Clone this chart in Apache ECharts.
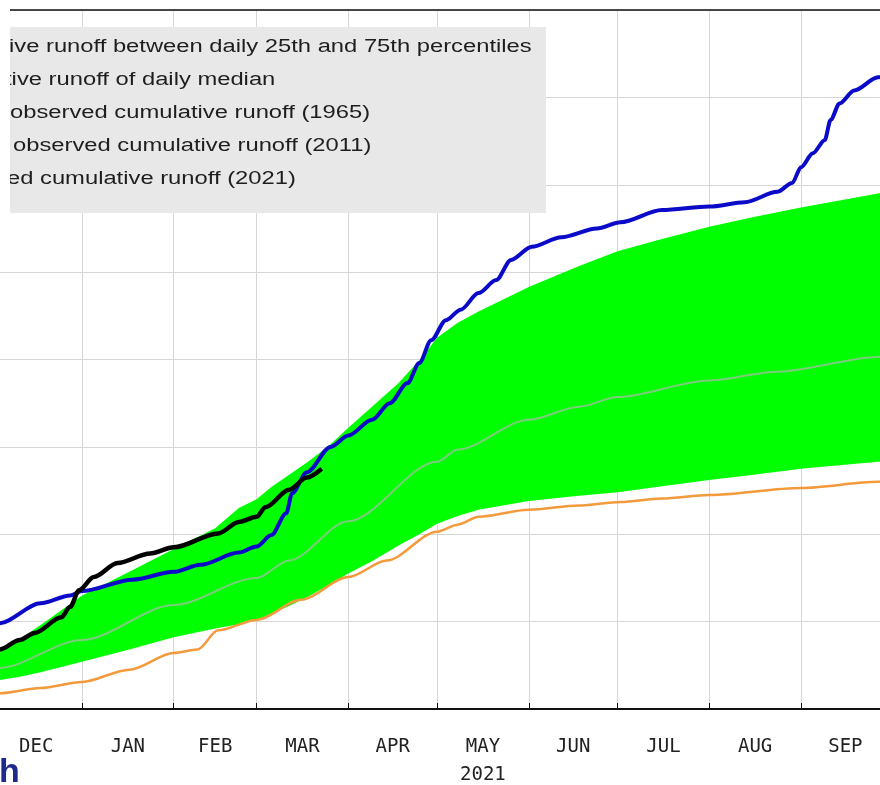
<!DOCTYPE html>
<html>
<head>
<meta charset="utf-8">
<title>Cumulative runoff</title>
<script src="https://cdn.jsdelivr.net/npm/echarts@6.0.0/dist/echarts.min.js"></script>
<style>
  html, body { margin: 0; padding: 0; background: #fff; }
  #chart { width: 880px; height: 785px; }
</style>
</head>
<body>
<div id="chart"></div>
<script>
// days counted from 1 Dec 2020; y in chart units (one grid step = 100)
const monthStarts = [31, 62, 90, 121, 151, 182, 212, 243, 274];
const monthMids = [15.5, 46.5, 76, 105.5, 136, 166.5, 197, 227.5, 258.5, 289];
const monthNames = ['DEC', 'JAN', 'FEB', 'MAR', 'APR', 'MAY', 'JUN', 'JUL', 'AUG', 'SEP'];

// 25th / 75th percentile band
const bandDays = [0, 3, 10, 17, 24, 31, 47, 62, 76, 84, 90, 95, 101, 107, 114, 121, 129, 138, 145, 151, 158, 165, 182, 199, 212, 227, 243, 258, 274, 287, 300, 304];
const p25 = [30, 33, 37, 42, 48, 54, 68, 82, 92, 97, 102, 109, 118, 128, 141, 155, 169, 187, 200, 212, 221, 228, 238, 244, 248, 255, 262, 268, 275, 279, 283, 284];
const p75 = [57, 65, 80, 96, 113, 130, 157, 183, 207, 230, 240, 254, 268, 282, 300, 322, 346, 373, 399, 425, 442, 455, 483, 507, 524, 538, 552, 563, 574, 582, 590, 592];

// daily median
const medDays = [0, 3, 31, 62, 90, 101, 121, 151, 158, 182, 199, 212, 243, 266, 300, 304];
const median = [43, 47, 79, 119, 150, 170, 215, 283, 297, 331, 346, 357, 376, 386, 403, 405];

// observed 1965
const days1965 = [0, 3, 17, 31, 47, 62, 70, 77, 90, 105, 121, 134, 151, 158, 165, 182, 199, 213, 227, 243, 274, 300, 304];
const obs1965 = [15, 18, 24, 31, 45, 64, 68, 90, 102, 125, 151, 170, 203, 211, 220, 228, 233, 237, 241, 245, 253, 260, 261];

// observed 2011
const days2011 = [0, 3, 17, 27, 31, 48, 62, 71, 84, 90, 95, 100, 102, 107, 115, 121, 129, 135, 141, 145, 149, 154, 159, 165, 171, 176, 183, 193, 205, 213, 227, 243, 255, 266, 271, 274, 278, 282, 284, 287, 292, 300, 304];
const obs2011 = [93, 98, 121, 130, 135, 148, 157, 165, 179, 186, 199, 224, 247, 271, 300, 313, 331, 350, 373, 396, 422, 445, 457, 476, 491, 514, 529, 540, 550, 557, 571, 575, 580, 592, 602, 620, 636, 651, 674, 693, 708, 723, 728];

// observed 2021 (to date)
const days2021 = [0, 3, 10, 15, 24, 27, 30, 35, 43, 54, 62, 77, 84, 90, 93, 101, 107, 112];
const obs2021 = [64, 68, 79, 87, 105, 117, 136, 151, 167, 178, 185, 201, 214, 220, 231, 251, 265, 275];

// visible window of the x axis (days)
const xMin = 3.28;
const xMax = 300.7;

const legendLines = [
  'ive runoff between daily 25th and 75th percentiles',
  'tive runoff of daily median',
  'observed cumulative runoff (1965)',
  'observed cumulative runoff (2011)',
  'ed cumulative runoff (2021)'
];

const pairs = (xs, ys) => xs.map((x, i) => [x, ys[i]]);

const chart = echarts.init(document.getElementById('chart'), null, { renderer: 'canvas' });

const legendX = [9, 5, 10, 13, 7];
const legendGraphics = [
  { type: 'rect', shape: { x: 10, y: 27, width: 536, height: 186 }, style: { fill: '#e8e8e8' }, z: 100 }
];
legendLines.forEach((t, i) => {
  legendGraphics.push({
    type: 'text',
    x: legendX[i],
    y: 47 + i * 33,
    scaleX: 1.32,
    z: 101,
    style: {
      text: t,
      fontSize: 18,
      fontFamily: 'Liberation Sans',
      fill: '#1e1e1e',
      verticalAlign: 'middle'
    }
  });
});
legendGraphics.push({ type: 'rect', shape: { x: 0, y: 0, width: 10, height: 215 }, style: { fill: '#ffffff' }, z: 102 });
legendGraphics.push({
  type: 'text', x: -1, y: 756, z: 102,
  style: { text: 'h', fontSize: 34, fontWeight: 'bold', fontFamily: 'Liberation Sans', fill: '#1f2a8c', verticalAlign: 'top' }
});

const option = {
  animation: false,
  backgroundColor: '#ffffff',
  grid: {
    left: 0,
    right: 0,
    top: 10,
    bottom: 76,
    outerBoundsMode: 'none'
  },
  xAxis: [
    {
      type: 'value',
      min: xMin,
      max: xMax,
      axisLine: { lineStyle: { color: '#111', width: 2 } },
      axisTick: { inside: true, length: 6, customValues: monthStarts, lineStyle: { color: '#111' } },
      splitLine: { show: true, lineStyle: { color: '#d6d6d6', width: 1 } },
      axisLabel: {
        customValues: monthMids,
        margin: 24,
        fontFamily: 'DejaVu Sans Mono',
        fontSize: 19,
        lineHeight: 28,
        color: '#222',
        formatter: (v) => {
          const i = monthMids.indexOf(v);
          const name = monthNames[i];
          return name === 'MAY' ? 'MAY\n2021' : name;
        }
      }
    },
    {
      // top frame line
      type: 'value',
      position: 'top',
      min: xMin,
      max: xMax,
      axisLine: { lineStyle: { color: '#111', width: 1.5 } },
      axisTick: { show: false },
      axisLabel: { show: false },
      splitLine: { show: false }
    }
  ],
  yAxis: {
    type: 'value',
    min: 0,
    max: 800,
    interval: 100,
    axisLine: { show: false },
    axisTick: { show: false },
    axisLabel: { show: false },
    splitLine: { lineStyle: { color: '#d6d6d6', width: 1 } }
  },
  graphic: legendGraphics,
  series: [
    {
      name: 'band',
      type: 'custom',
      coordinateSystem: 'cartesian2d',
      silent: true,
      clip: true,
      z: 2,
      data: [[xMin, 0]],
      renderItem: (params, api) => {
        const upper = bandDays.map((d, i) => api.coord([d, p75[i]]));
        const lower = bandDays.map((d, i) => api.coord([d, p25[i]])).reverse();
        return {
          type: 'polygon',
          shape: { points: upper.concat(lower) },
          style: { fill: '#00ff00' }
        };
      }
    },
    {
      name: 'median',
      type: 'line',
      data: pairs(medDays, median),
      symbol: 'none',
      smooth: 0.3,
      smoothMonotone: 'x',
      z: 3,
      lineStyle: { color: '#7ccc7c', width: 2 }
    },
    {
      name: '1965',
      type: 'line',
      data: pairs(days1965, obs1965),
      symbol: 'none',
      smooth: 0.3,
      smoothMonotone: 'x',
      z: 4,
      lineStyle: { color: '#f39a3c', width: 2.5 }
    },
    {
      name: '2011',
      type: 'line',
      data: pairs(days2011, obs2011),
      symbol: 'none',
      smooth: 0.3,
      smoothMonotone: 'x',
      z: 5,
      lineStyle: { color: '#0a0ac8', width: 4 }
    },
    {
      name: '2021',
      type: 'line',
      data: pairs(days2021, obs2021),
      symbol: 'none',
      smooth: 0.3,
      smoothMonotone: 'x',
      z: 6,
      lineStyle: { color: '#000000', width: 4.5 }
    }
  ]
};

chart.setOption(option);
window.addEventListener('resize', chart.resize);
</script>
</body>
</html>
